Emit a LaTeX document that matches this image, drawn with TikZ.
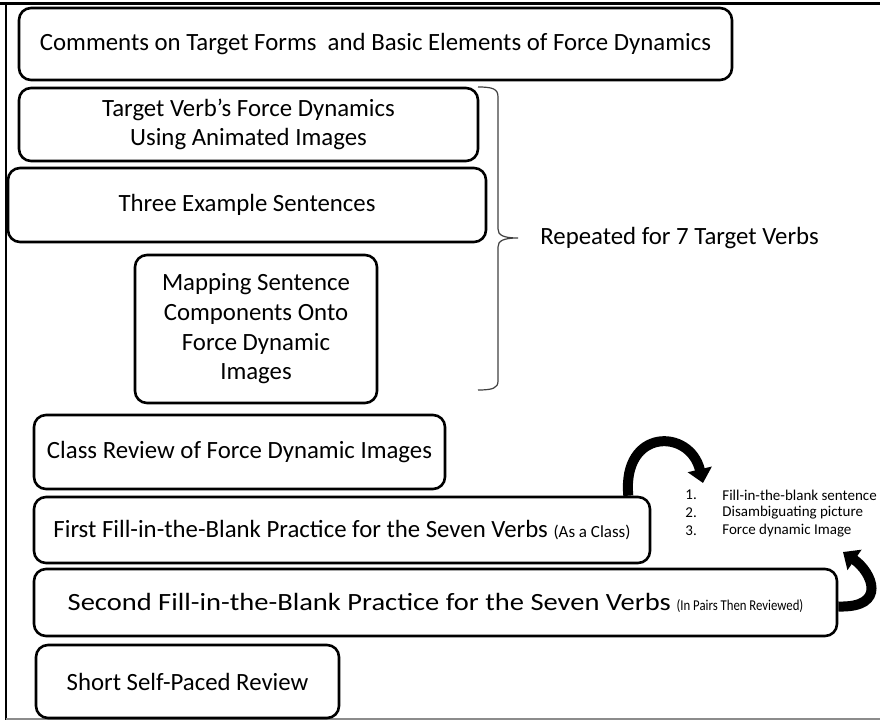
\documentclass[tikz,border=0pt]{standalone}
\usepackage{fontspec}
\setmainfont{Carlito}
\usetikzlibrary{arrows.meta,calc,positioning}
\definecolor{Ink}{HTML}{000000}
\definecolor{FrameGray}{HTML}{8C8C8C}
\definecolor{BraceGray}{HTML}{404040}

\begin{document}
\begin{tikzpicture}[x=0.5pt,y=-0.5pt,
    stagebox/.style={draw=Ink,line width=1.3pt,rounded corners=6pt,
      align=center,inner sep=0pt,font=\fontsize{12.4}{14.8}\selectfont},
    bendarrow/.style={Ink,line width=5pt,
      -{Triangle[length=7pt,width=12pt]}},
    listfont/.style={font=\fontsize{7.5}{9}\selectfont,inner sep=0pt}]
  \useasboundingbox (0,0) rectangle (880,721);
  \draw[Ink,line width=1.5pt] (0,4)--(880,4);
  \draw[Ink,line width=1pt] (6,3)--(6,720);
  \draw[FrameGray,line width=1pt] (6,719.5)--(880,719.5);

  \node[stagebox,minimum width=356.5pt,minimum height=36pt]
    (comments) at (375.5,44)
    {Comments on Target Forms\ \ and Basic Elements of Force Dynamics};
  \node[stagebox,minimum width=229.5pt,minimum height=36.5pt]
    (animated) at (248.5,124.5)
    {Target Verb’s Force Dynamics\\Using Animated Images};
  \node[stagebox,minimum width=239pt,minimum height=37pt]
    (examples) at (247,205) {Three Example Sentences};
  \node[stagebox,minimum width=121pt,minimum height=74pt]
    (mapping) at (256,329)
    {Mapping Sentence\\Components Onto\\Force Dynamic\\Images};
  \node[stagebox,minimum width=205.5pt,minimum height=37pt]
    (review) at (239.5,452) {Class Review of Force Dynamic Images};
  \node[stagebox,minimum width=308pt,minimum height=33pt]
    (first) at (342,530)
    {First Fill-in-the-Blank Practice for the Seven Verbs
     {\fontsize{8.5}{10}\selectfont(As a Class)}};
  \node[stagebox,minimum width=401.5pt,minimum height=33.5pt]
    (second) at (435.5,602.5)
    {\scalebox{1.15}[1]{Second Fill-in-the-Blank Practice for the Seven Verbs}
     \scalebox{0.85}[1]{\fontsize{7.5}{9}\selectfont(In Pairs Then Reviewed)}};
  \node[stagebox,minimum width=151.5pt,minimum height=36.5pt]
    (selfpaced) at (187.5,681.5) {Short Self-Paced Review};

  \draw[BraceGray,line width=0.6pt]
    (478,87) .. controls (493,87) and (498,89) .. (498,97)
    -- (498,229) .. controls (498,235) and (503,238) .. (518,238)
    .. controls (503,238) and (498,241) .. (498,247)
    -- (498,381) .. controls (498,388) and (493,390) .. (478,390);
  \coordinate (bracetip) at (518,238);
  \node[right=11pt of bracetip,inner sep=0pt,
    font=\fontsize{12.4}{14.8}\selectfont] (repeated)
    {Repeated for 7 Target Verbs};

  \foreach \n/\y/\lab in {
    1/495/Fill-in-the-blank sentence,
    2/513/Disambiguating picture,
    3/531/Force dynamic Image}{
    \node[listfont,anchor=west] (num\n) at (685,\y) {\n.};
    \node[listfont,anchor=west] (item\n) at (722,\y) {\lab};
  }

  \coordinate (listtop) at (703,483);
  \coordinate (listbottom) at (843,552);
  \draw[bendarrow] ([xshift=-11.5pt]first.north east)
    .. controls (622,428) and (690,428) .. (listtop);
  \draw[bendarrow] ([yshift=-2pt]second.east)
    .. controls (888,608) and (872,572) .. (listbottom);
\end{tikzpicture}
\end{document}
